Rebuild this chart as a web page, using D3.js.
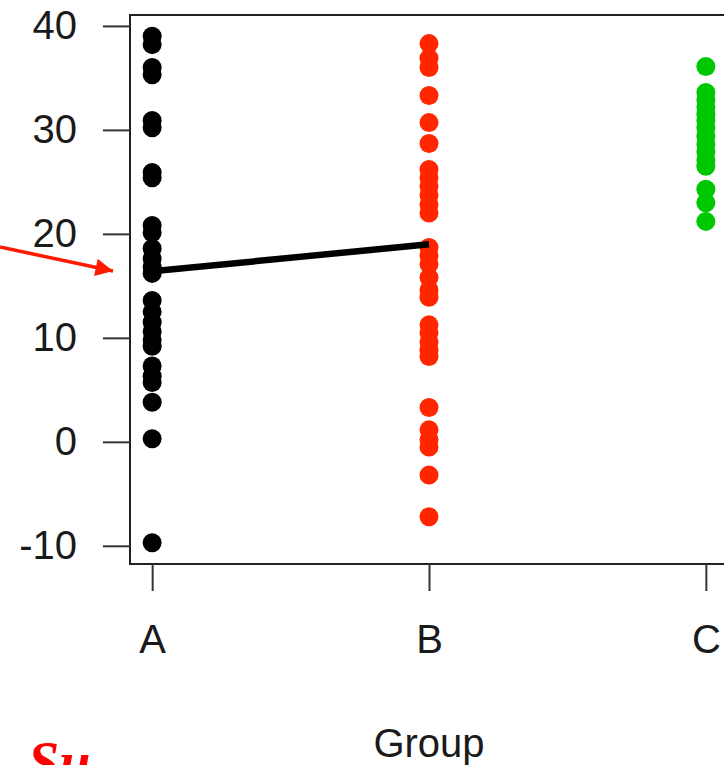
<!DOCTYPE html>
<html>
<head>
<meta charset="utf-8">
<script src="https://cdn.jsdelivr.net/npm/d3@7"></script>
<style>
  html, body { margin: 0; padding: 0; background: #fff; }
  svg { display: block; }
</style>
</head>
<body>
<svg id="chart" width="724" height="765"></svg>
<script>
// Groups and the observations in each
const groups = ["A", "B", "C"];
const valuesA = [39.0, 38.2, 36.0, 35.3, 30.9, 30.2, 25.9, 25.4, 20.8, 20.1, 18.6, 17.6,
                 16.8, 16.2, 13.6, 12.5, 11.5, 10.6, 9.8, 9.2, 7.3, 6.3, 5.7, 3.8, 0.3, -9.7];
const valuesB = [38.3, 36.9, 36.0, 33.3, 30.7, 28.7, 26.2, 25.4, 24.6, 23.75, 22.8, 22.0,
                 18.7, 17.9, 17.1, 15.8, 14.6, 13.9, 11.25, 10.5, 9.6, 8.8, 8.2,
                 3.3, 1.15, 0.2, -0.5, -3.2, -7.2];
const valuesC = [36.1, 33.6, 32.9, 32.2, 31.5, 30.9, 30.2, 29.4, 28.65, 27.9, 27.1, 26.5,
                 24.3, 23.0, 21.2];
const groupColors = ["#000000", "#ff2600", "#00c800"];
// Segment joining group A to group B
const segmentGroups = ["A", "B"];
const segmentValues = [16.4, 19.0];
const yTicks = [-10, 0, 10, 20, 30, 40];
const xTitle = "Group";
const noteText = "Su";

const svg = d3.select("#chart");
const font = "'Liberation Sans', Arial, Helvetica, sans-serif";

// Plot region (axis limits padded 4% beyond the data, R style)
const x = d3.scaleLinear().domain([0.92, 3.08]).range([130, 728]);
const y = d3.scaleLinear().domain([-11.75, 41.05]).range([564, 15]);
const xPos = g => x(groups.indexOf(g) + 1);

// Points
const series = [valuesA, valuesB, valuesC];
series.forEach((vals, i) => {
  svg.append("g")
    .selectAll("circle")
    .data(vals)
    .join("circle")
    .attr("cx", xPos(groups[i]))
    .attr("cy", d => y(d))
    .attr("r", 9.5)
    .attr("fill", groupColors[i]);
});

// Segment between groups
svg.append("line")
  .attr("x1", xPos(segmentGroups[0])).attr("y1", y(segmentValues[0]))
  .attr("x2", xPos(segmentGroups[1])).attr("y2", y(segmentValues[1]))
  .attr("stroke", "#000").attr("stroke-width", 6.5);

// Plot frame
svg.append("rect")
  .attr("x", x.range()[0]).attr("y", y.range()[1])
  .attr("width", x.range()[1] - x.range()[0])
  .attr("height", y.range()[0] - y.range()[1])
  .attr("fill", "none").attr("stroke", "#222").attr("stroke-width", 2);

// Y axis (plain hyphen for negatives)
const yAxis = svg.append("g")
  .attr("transform", `translate(${x.range()[0]},0)`)
  .call(d3.axisLeft(y).tickValues(yTicks).tickFormat(d => String(d))
        .tickSize(27).tickPadding(26));
yAxis.select(".domain").remove();
yAxis.selectAll(".tick line").attr("stroke", "#333").attr("stroke-width", 2);
yAxis.selectAll(".tick text")
  .attr("font-family", font).attr("font-size", 40).attr("fill", "#1a1a1a");

// X axis
const xAxis = svg.append("g")
  .attr("transform", `translate(0,${y.range()[0]})`)
  .call(d3.axisBottom(x).tickValues([1, 2, 3]).tickFormat(d => groups[d - 1])
        .tickSize(27).tickPadding(34));
xAxis.select(".domain").remove();
xAxis.selectAll(".tick line").attr("stroke", "#333").attr("stroke-width", 2);
xAxis.selectAll(".tick text")
  .attr("font-family", font).attr("font-size", 40).attr("fill", "#1a1a1a");

// Axis title
svg.append("text")
  .attr("x", (x.range()[0] + x.range()[1]) / 2).attr("y", 757)
  .attr("text-anchor", "middle")
  .attr("font-family", font).attr("font-size", 40).attr("fill", "#1a1a1a")
  .text(xTitle);

// Red annotation arrow
const defs = svg.append("defs");
defs.append("marker")
  .attr("id", "arrowhead")
  .attr("viewBox", "0 0 10 10")
  .attr("refX", 10).attr("refY", 5)
  .attr("markerWidth", 6).attr("markerHeight", 5)
  .attr("markerUnits", "strokeWidth")
  .attr("orient", "auto")
  .append("path").attr("d", "M0,0 L10,5 L0,10 Z").attr("fill", "#ff1a00");

svg.append("line")
  .attr("x1", 0).attr("y1", 247)
  .attr("x2", 113).attr("y2", 271)
  .attr("stroke", "#ff1a00").attr("stroke-width", 3.5)
  .attr("marker-end", "url(#arrowhead)");

// Red note along the bottom edge
svg.append("text")
  .attr("x", 28).attr("y", 781)
  .attr("font-family", "'Liberation Serif', 'DejaVu Serif', serif")
  .attr("font-style", "italic").attr("font-weight", "bold")
  .attr("font-size", 56).attr("fill", "#ff0000")
  .text(noteText);
</script>
</body>
</html>
